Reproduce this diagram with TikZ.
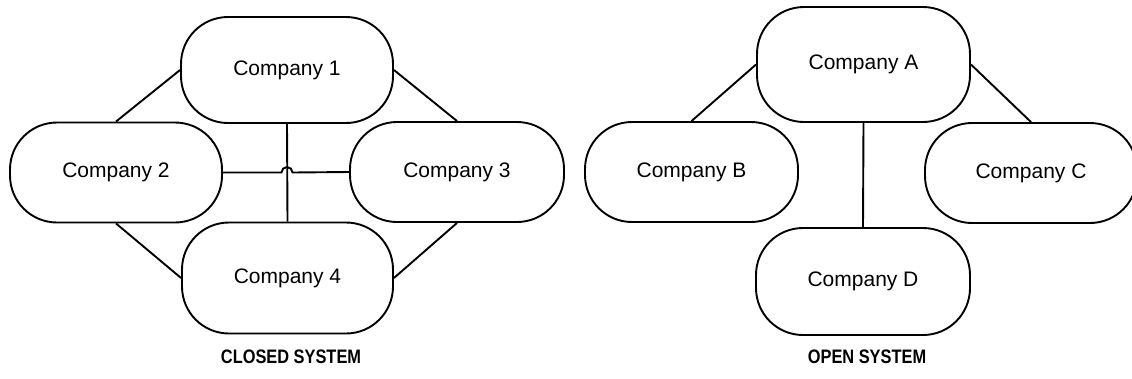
\documentclass[tikz,border=0pt]{standalone}
\usepackage{fontspec}
\setmainfont{Liberation Sans}
\newfontfamily\captionfont{Liberation Sans}[FakeStretch=0.84]
\begin{document}
\begin{tikzpicture}[x=1pt,y=-1pt,
  company/.style={draw=black, line width=1.9pt, rounded corners=47pt,
    minimum width=212pt, minimum height=106pt, inner sep=0pt,
    font=\fontsize{21}{25}\selectfont},
  link/.style={draw=black, line width=1.9pt},
  systemlabel/.style={font=\fontsize{19.5}{22}\selectfont\captionfont\bfseries}]
\useasboundingbox (0,0) rectangle (1132,378);

% closed system
\node[company, minimum height=106pt] (c1) at (287,70) {Company 1};
\node[company, minimum height=100pt] (c2) at (116,172.5) {Company 2};
\node[company, minimum width=214pt, minimum height=100pt] (c3) at (457,172) {Company 3};
\node[company, minimum width=211pt, minimum height=111pt] (c4) at (287.5,278) {Company 4};

\draw[link] (c1.west) -- (c2.north);
\draw[link] (c1.east) -- (c3.north);
\draw[link] (c2.south) -- (c4.west);
\draw[link] (c3.south) -- (c4.east);
\draw[link] (c1.south) -- (c4.north);
\coordinate (hop) at (c1.south |- c2.east);
\draw[link] (c2.east) -- ([xshift=-5.5pt]hop)
  arc[start angle=180, end angle=0, radius=5.5pt] -- (c3.west);

\node[systemlabel] (closed) at (291,357) {CLOSED SYSTEM};

% open system
\node[company, minimum width=213pt, minimum height=115pt] (a) at (863.5,64.5) {Company A};
\node[company, minimum width=213pt, minimum height=100pt] (b) at (691.5,172) {Company B};
\node[company, minimum width=212pt, minimum height=100pt] (c) at (1031,173) {Company C};
\node[company, minimum width=214pt, minimum height=107pt] (d) at (863,281.5) {Company D};

\draw[link] (a.west) -- (b.north);
\draw[link] (a.east) -- (c.north);
\draw[link] (a.south) -- (d.north);

\node[systemlabel] (open) at (867,357) {OPEN SYSTEM};
\end{tikzpicture}
\end{document}
